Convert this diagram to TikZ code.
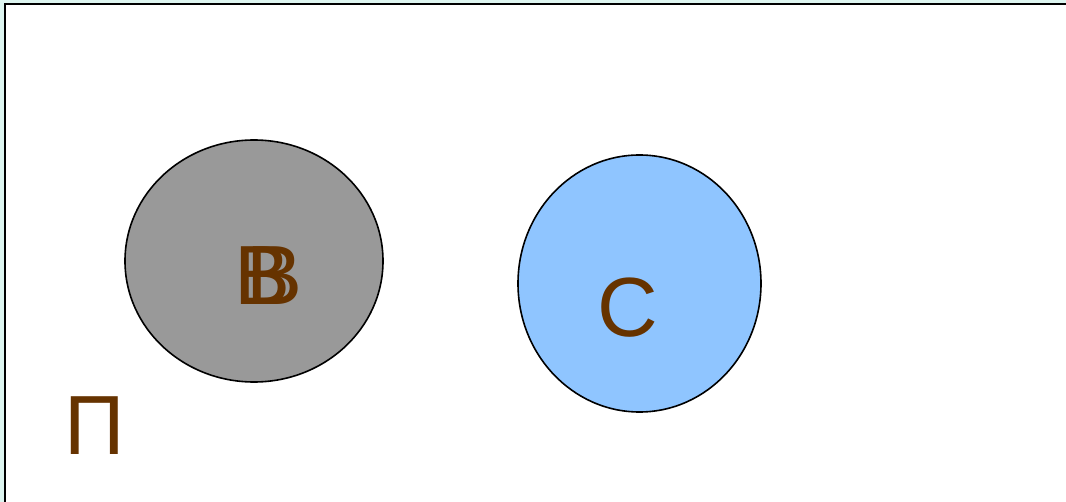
\documentclass[tikz,border=0pt]{standalone}
\usepackage{fontspec}
\setmainfont{Liberation Sans}
\usetikzlibrary{shapes.geometric}
\definecolor{bgc}{HTML}{DDF5F0}
\definecolor{brn}{HTML}{663300}
\definecolor{grayfill}{HTML}{999999}
\definecolor{bluefill}{HTML}{8FC5FF}
\begin{document}
\begin{tikzpicture}[x=1pt,y=-1pt,
  lbl/.style={text=brn,font=\fontsize{84}{100}\selectfont,inner sep=0pt,anchor=base},
  blob/.style={draw=black,line width=1.6pt}]
\useasboundingbox (0,0) rectangle (1066,502);
\fill[bgc] (0,0) rectangle (1066,502);
\draw[line width=2pt,fill=white] (5,4) rectangle (1075,512);
\node[blob,ellipse,fill=grayfill,minimum width=258pt,minimum height=242pt,inner sep=0pt] (g) at (254,261) {};
\node[blob,ellipse,fill=bluefill,minimum width=243pt,minimum height=257pt,inner sep=0pt] (b) at (639.5,283.5) {};
\node[lbl] (b1) at (263,305) {B};
\node[lbl] (b2) at (275,305) {B};
\node[lbl] (c) at (628,337) {C};
\node[lbl] (p) at (95,455) {П};
\end{tikzpicture}
\end{document}
